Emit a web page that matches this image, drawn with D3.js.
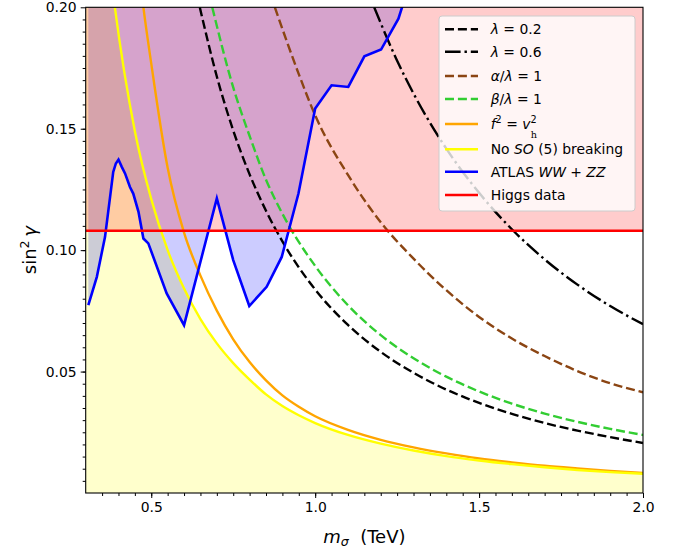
<!DOCTYPE html>
<html>
<head>
<meta charset="utf-8">
<script src="https://cdn.jsdelivr.net/npm/d3@7"></script>
<style>
  html, body { margin: 0; padding: 0; background: #fff; }
  svg { display: block; font-family: "DejaVu Sans", sans-serif; }
</style>
</head>
<body>
<div id="chart"></div>
<script>
// axis ticks
const xTicks = [0.5, 1.0, 1.5, 2.0];
const yTicks = [0.05, 0.10, 0.15, 0.20];

// curves as [m_sigma (TeV), sin^2 gamma]
const lambda02 = [[0.648, 0.200], [0.70, 0.1715], [0.75, 0.1493], [0.80, 0.1312], [0.85, 0.1162], [0.90, 0.1036],
  [1.0, 0.0838], [1.1, 0.0692], [1.2, 0.0581], [1.3, 0.0495], [1.4, 0.0426], [1.5, 0.0371], [1.6, 0.0326],
  [1.7, 0.0288], [1.8, 0.0257], [1.9, 0.0230], [2.0, 0.0206]];
const lambda06 = [[1.18, 0.200], [1.25, 0.178], [1.3, 0.1645], [1.4, 0.1418], [1.5, 0.1236], [1.6, 0.1086],
  [1.7, 0.0962], [1.8, 0.0858], [1.9, 0.0770], [2.0, 0.0695]];
const alphaRatio = [[0.877, 0.200], [0.95, 0.1725], [1.0, 0.1555], [1.1, 0.131], [1.2, 0.1115], [1.3, 0.0965],
  [1.4, 0.0835], [1.5, 0.0725], [1.6, 0.0636], [1.7, 0.0564], [1.8, 0.0502], [1.9, 0.0452], [2.0, 0.0415]];
const betaRatio = [[0.686, 0.200], [0.75, 0.167], [0.80, 0.147], [0.85, 0.129], [0.90, 0.115], [1.0, 0.0935],
  [1.1, 0.0773], [1.2, 0.0650], [1.3, 0.0555], [1.4, 0.0479], [1.5, 0.0418], [1.6, 0.0368], [1.7, 0.0327],
  [1.8, 0.0293], [1.9, 0.0264], [2.0, 0.0239]];
const fEqualsV = [[0.40, 0.306], [0.476, 0.200], [0.50, 0.1768], [0.55, 0.1339], [0.60, 0.1072], [0.65, 0.0895],
  [0.70, 0.0751], [0.75, 0.0633], [0.80, 0.0539], [0.85, 0.0464], [0.90, 0.0402], [0.95, 0.0355], [1.0, 0.0316],
  [1.1, 0.0260], [1.2, 0.0219], [1.3, 0.0188], [1.4, 0.0163], [1.5, 0.0142], [1.6, 0.0126], [1.7, 0.0112],
  [1.8, 0.0101], [1.9, 0.0091], [2.0, 0.0083]];
const noSO5 = [[0.30, 0.333], [0.35, 0.245], [0.389, 0.200], [0.45, 0.149], [0.50, 0.121], [0.55, 0.100],
  [0.60, 0.0842], [0.65, 0.0716], [0.70, 0.0616], [0.75, 0.0535], [0.80, 0.0467], [0.85, 0.0406], [0.90, 0.0358],
  [0.95, 0.0320], [1.0, 0.0288], [1.1, 0.0239], [1.2, 0.0203], [1.3, 0.0175], [1.4, 0.0152], [1.5, 0.0134],
  [1.6, 0.0119], [1.7, 0.0106], [1.8, 0.0095], [1.9, 0.0086], [2.0, 0.0079]];
const atlas = [[0.308, 0.0774], [0.334, 0.0890], [0.359, 0.1055], [0.384, 0.1322], [0.392, 0.1357], [0.400, 0.1373],
  [0.410, 0.1343], [0.420, 0.1316], [0.435, 0.1260], [0.445, 0.1233], [0.461, 0.1158], [0.476, 0.1048],
  [0.491, 0.1028], [0.547, 0.0822], [0.600, 0.0691], [0.700, 0.1213], [0.750, 0.0959], [0.799, 0.0770],
  [0.852, 0.0849], [0.898, 0.0972], [0.949, 0.1233], [1.000, 0.1583], [1.050, 0.1679], [1.101, 0.1672],
  [1.150, 0.1798], [1.201, 0.1826], [1.254, 0.1953], [1.30, 0.215]];
const higgsLimit = 0.108;

const W = 688, H = 550;
const padLeft = 85.7, padRight = 643, padTop = 7.3, padBottom = 493;

const svg = d3.select('#chart').append('svg')
    .attr('width', W)
    .attr('height', H);

const x = d3.scaleLinear().domain([0.3, 2.0]).range([padLeft, padRight]);
const y = d3.scaleLinear().domain([0, 0.2]).range([padBottom, padTop]);

svg.append('defs').append('clipPath')
    .attr('id', 'plotClip')
    .append('rect')
    .attr('x', padLeft).attr('y', padTop)
    .attr('width', padRight - padLeft).attr('height', padBottom - padTop);

const plot = svg.append('g').attr('clip-path', 'url(#plotClip)');

// filled regions: yellow below, ATLAS above, Higgs above
plot.append('path')
    .datum(noSO5)
    .attr('d', d3.area().x(d => x(d[0])).y0(y(0)).y1(d => y(d[1])).curve(d3.curveMonotoneX))
    .attr('fill', 'yellow').attr('fill-opacity', 0.2);

plot.append('path')
    .datum(atlas)
    .attr('d', d3.area().x(d => x(d[0])).y0(d => y(d[1])).y1(y(0.25)))
    .attr('fill', 'blue').attr('fill-opacity', 0.2);

plot.append('path')
    .datum([[0.3, higgsLimit], [2.0, higgsLimit]])
    .attr('d', d3.area().x(d => x(d[0])).y0(d => y(d[1])).y1(y(0.25)))
    .attr('fill', 'red').attr('fill-opacity', 0.2);

const dashed = '9,3.9';
const dashDot = '15.6,3.9,2.4,3.9';
const series = [
    { data: lambda02, color: '#000000', dash: dashed, width: 2.4, curve: d3.curveMonotoneX },
    { data: lambda06, color: '#000000', dash: dashDot, width: 2.4, curve: d3.curveMonotoneX },
    { data: alphaRatio, color: '#8b4513', dash: dashed, width: 2.4, curve: d3.curveMonotoneX },
    { data: betaRatio, color: '#32cd32', dash: dashed, width: 2.4, curve: d3.curveMonotoneX },
    { data: fEqualsV, color: '#ffa500', dash: null, width: 2.4, curve: d3.curveMonotoneX },
    { data: noSO5, color: '#ffff00', dash: null, width: 2.4, curve: d3.curveMonotoneX },
    { data: atlas, color: '#0000ff', dash: null, width: 2.6, curve: d3.curveLinear },
    { data: [[0.3, higgsLimit], [2.0, higgsLimit]], color: '#ff0000', dash: null, width: 2.4, curve: d3.curveLinear }
];

series.forEach(s => {
    plot.append('path')
        .datum(s.data)
        .attr('d', d3.line().x(d => x(d[0])).y(d => y(d[1])).curve(s.curve))
        .attr('fill', 'none')
        .attr('stroke', s.color)
        .attr('stroke-width', s.width)
        .attr('stroke-dasharray', s.dash);
});

// axes
const xAxis = svg.append('g')
    .attr('transform', `translate(0,${padBottom})`)
    .call(d3.axisBottom(x).tickValues(xTicks).tickFormat(d3.format('.1f')).tickSize(5).tickPadding(4));
const xMinor = svg.append('g')
    .attr('transform', `translate(0,${padBottom})`)
    .call(d3.axisBottom(x).tickValues(d3.range(0.35, 2.0, 0.05)).tickFormat('').tickSize(3));
const yAxis = svg.append('g')
    .attr('transform', `translate(${padLeft},0)`)
    .call(d3.axisLeft(y).tickValues(yTicks).tickFormat(d3.format('.2f')).tickSize(5).tickPadding(4));
const yMinor = svg.append('g')
    .attr('transform', `translate(${padLeft},0)`)
    .call(d3.axisLeft(y).tickValues(d3.range(0.005, 0.2, 0.005)).tickFormat('').tickSize(3));

[xAxis, xMinor, yAxis, yMinor].forEach(a => {
    a.select('.domain').remove();
    a.selectAll('line').attr('stroke', '#000').attr('stroke-width', 1);
    a.selectAll('text').attr('fill', '#000').attr('font-size', '13.9px')
        .attr('font-family', '"DejaVu Sans", sans-serif');
});

svg.append('rect')
    .attr('x', padLeft).attr('y', padTop)
    .attr('width', padRight - padLeft).attr('height', padBottom - padTop)
    .attr('fill', 'none').attr('stroke', '#000').attr('stroke-width', 1.1);

// axis labels
const xLabel = svg.append('text')
    .attr('x', (padLeft + padRight) / 2).attr('y', 543)
    .attr('text-anchor', 'middle')
    .attr('font-size', '18px');
xLabel.append('tspan').attr('font-style', 'italic').text('m');
xLabel.append('tspan').attr('font-style', 'italic').attr('font-size', '12.6px').attr('dy', 3).text('σ');
xLabel.append('tspan').attr('dy', -3).text('\u00a0\u00a0(TeV)');

const yLabel = svg.append('text')
    .attr('transform', `translate(36,${(padTop + padBottom) / 2}) rotate(-90)`)
    .attr('text-anchor', 'middle')
    .attr('font-size', '18px');
yLabel.append('tspan').text('sin');
yLabel.append('tspan').attr('font-size', '12.6px').attr('dy', -7).text('2');
yLabel.append('tspan').attr('font-style', 'italic').attr('dy', 7).text('\u2009γ');

// legend
const legend = svg.append('g');
legend.append('rect')
    .attr('x', 439).attr('y', 16)
    .attr('width', 196).attr('height', 195)
    .attr('rx', 3)
    .attr('fill', '#fff').attr('fill-opacity', 0.8)
    .attr('stroke', '#cccccc').attr('stroke-width', 1);

const legendRows = [29.3, 51.7, 76, 99, 124, 149.3, 171.7, 195];
const legendText = [
    [['λ', 'i'], [' = 0.2', 'n']],
    [['λ', 'i'], [' = 0.6', 'n']],
    [['α', 'i'], ['/', 'n'], ['λ', 'i'], [' = 1', 'n']],
    [['β', 'i'], ['/', 'n'], ['λ', 'i'], [' = 1', 'n']],
    [['f', 'i'], ['2', 'sup'], [' = ', 'n'], ['v', 'i'], ['2', 'sup'], ['h', 'sub']],
    [['No ', 'n'], ['SO', 'i'], [' (5) breaking', 'n']],
    [['ATLAS ', 'n'], ['WW', 'i'], [' + ', 'n'], ['ZZ', 'i']],
    [['Higgs data', 'n']]
];

series.forEach((s, i) => {
    const ry = legendRows[i];
    legend.append('line')
        .attr('x1', 445).attr('x2', 478)
        .attr('y1', ry).attr('y2', ry)
        .attr('stroke', s.color)
        .attr('stroke-width', s.width)
        .attr('stroke-dasharray', s.dash);
    const t = legend.append('text')
        .attr('x', 490.7).attr('y', ry + 5)
        .attr('font-size', '13.9px')
        .attr('fill', '#000');
    let shift = 0;
    legendText[i].forEach(([str, kind]) => {
        const ts = t.append('tspan').text(str);
        if (kind === 'i') {
            ts.attr('font-style', 'italic').attr('dy', -shift); shift = 0;
        } else if (kind === 'n') {
            ts.attr('dy', -shift); shift = 0;
        } else if (kind === 'sup') {
            ts.attr('font-size', '9.7px').attr('dy', -6 - shift); shift = -6;
        } else if (kind === 'sub') {
            ts.attr('font-size', '9.7px').attr('font-family', '"DejaVu Serif", serif')
                .attr('dx', -6).attr('dy', 9 - shift); shift = 3;
        }
    });
});
</script>
</body>
</html>
